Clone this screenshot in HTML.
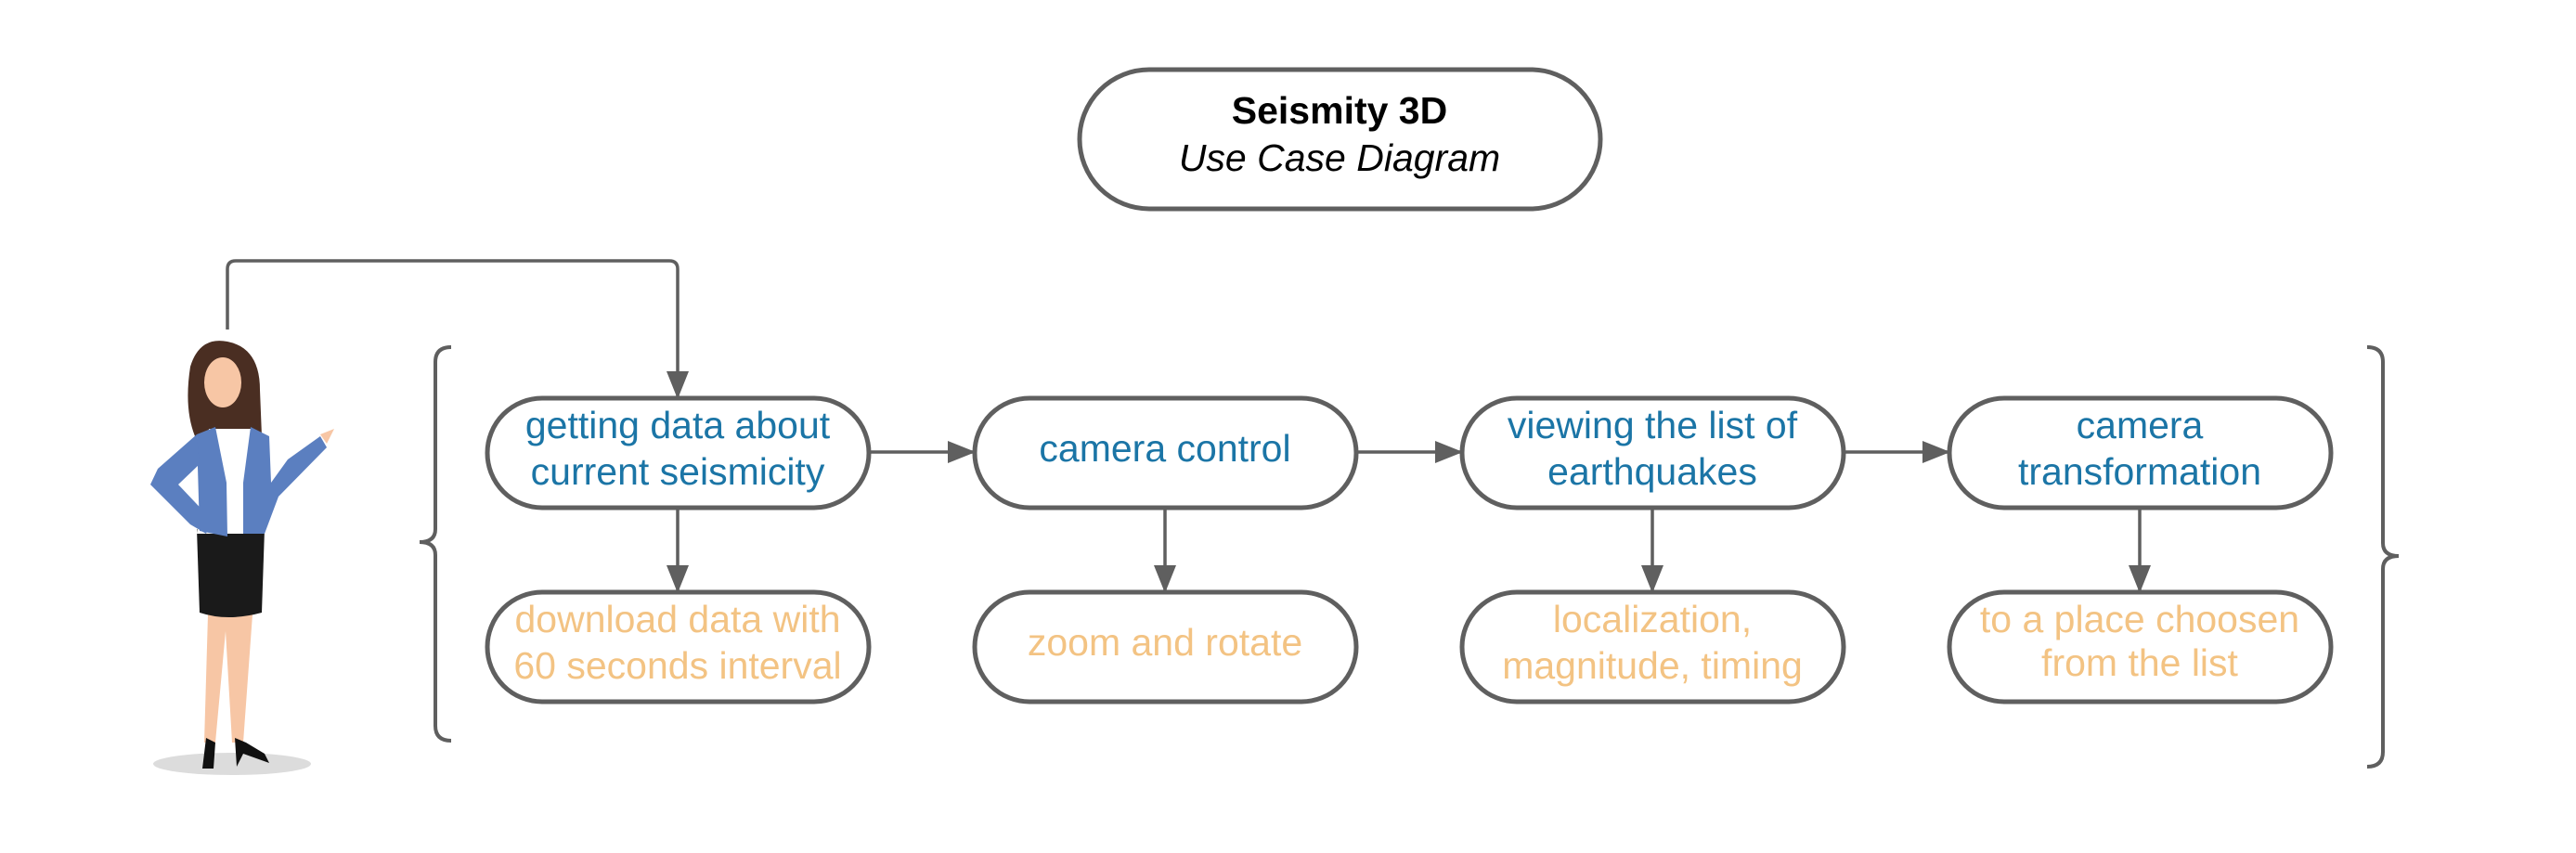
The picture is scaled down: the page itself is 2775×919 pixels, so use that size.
<!DOCTYPE html>
<html><head><meta charset="utf-8"><style>
html,body{margin:0;padding:0;background:#fff;}
svg{display:block}
.b{fill:#1b75a6;font-family:"Liberation Sans",sans-serif;font-size:41px;text-anchor:middle}
.o{fill:#f3c383;font-family:"Liberation Sans",sans-serif;font-size:41px;text-anchor:middle}
</style></head><body>
<svg width="2775" height="919" viewBox="0 0 2775 919" xmlns="http://www.w3.org/2000/svg">
<defs>
<marker id="a" markerWidth="30" markerHeight="24" refX="28" refY="12" orient="auto" markerUnits="userSpaceOnUse"><path d="M0,0 L30,12 L0,24 z" fill="#5f5f5f"/></marker></defs>
<g fill="none" stroke="#5f5f5f" stroke-width="5">
<rect x="1163" y="75" width="561" height="150" rx="75"/>
<rect x="525" y="429" width="411" height="118" rx="59"/>
<rect x="1050" y="429" width="411" height="118" rx="59"/>
<rect x="1575" y="429" width="411" height="118" rx="59"/>
<rect x="2100" y="429" width="411" height="118" rx="59"/>
<rect x="525" y="638" width="411" height="118" rx="59"/>
<rect x="1050" y="638" width="411" height="118" rx="59"/>
<rect x="1575" y="638" width="411" height="118" rx="59"/>
<rect x="2100" y="638" width="411" height="118" rx="59"/>
<g stroke-width="3.5">
<path d="M245,355 V290 Q245,281 254,281 H721 Q730,281 730,290 V428" marker-end="url(#a)"/>
<path d="M938,487 H1049" marker-end="url(#a)"/>
<path d="M1463,487 H1574" marker-end="url(#a)"/>
<path d="M1988,487 H2099" marker-end="url(#a)"/>
<path d="M730,549 V637" marker-end="url(#a)"/>
<path d="M1255,549 V637" marker-end="url(#a)"/>
<path d="M1780,549 V637" marker-end="url(#a)"/>
<path d="M2305,549 V637" marker-end="url(#a)"/>
</g>
<path d="M486,374 Q469,374 469,390 V570 Q469,584 452,584 Q469,584 469,598 V782 Q469,798 486,798" stroke-width="4"/>
<path d="M2550,374 Q2567,374 2567,390 V585 Q2567,599 2584,599 Q2567,599 2567,613 V810 Q2567,826 2550,826" stroke-width="4"/>
</g>
<text x="1443" y="133" font-family="Liberation Sans,sans-serif" font-size="41" font-weight="bold" text-anchor="middle">Seismity 3D</text>
<text x="1443" y="184" font-family="Liberation Sans,sans-serif" font-size="41" font-style="italic" text-anchor="middle">Use Case Diagram</text>
<text class="b" x="730" y="472">getting data about</text><text class="b" x="730" y="522">current seismicity</text>
<text class="b" x="1255" y="497">camera control</text>
<text class="b" x="1780" y="472">viewing the list of</text><text class="b" x="1780" y="522">earthquakes</text>
<text class="b" x="2305" y="472">camera</text><text class="b" x="2305" y="522">transformation</text>
<text class="o" x="730" y="681">download data with</text><text class="o" x="730" y="731">60 seconds interval</text>
<text class="o" x="1255" y="706">zoom and rotate</text>
<text class="o" x="1780" y="681">localization,</text><text class="o" x="1780" y="731">magnitude, timing</text>
<text class="o" x="2305" y="681">to a place choosen</text><text class="o" x="2305" y="728">from the list</text>
<!-- woman -->
<ellipse cx="250" cy="823" rx="85" ry="12" fill="#dcdcdc"/>
<path d="M205,395 Q215,362 245,368 Q280,375 280,420 L282,470 L262,472 L210,470 Q198,440 205,395z" fill="#4a2e22"/>
<ellipse cx="240" cy="412" rx="20" ry="27" fill="#f7c6a5"/>
<path d="M224,662 L220,800 L232,800 L243,680 L250,800 L262,800 L272,662z" fill="#f7c6a5"/>
<path d="M222,795 L218,828 L230,828 L232,800z M253,795 L255,826 L262,812 L290,822 L285,812 L265,800z" fill="#111"/>
<path d="M212,570 L285,570 L282,660 Q245,670 215,660z" fill="#1a1a1a"/>
<path d="M225,462 L272,462 L285,575 L212,575z" fill="#fff"/>
<path d="M212,468 L232,460 L244,520 L245,578 L215,572z M270,460 L290,470 L292,520 L310,495 L345,470 L352,482 L300,535 L285,575 L262,575 L262,520z" fill="#5b7fc0"/>
<path d="M212,468 L170,505 L162,522 L205,565 L222,575 L228,560 L192,522 L215,500z" fill="#5b7fc0"/>
<path d="M345,468 L360,462 L352,478z" fill="#f7c6a5"/>
</svg>
</body></html>
